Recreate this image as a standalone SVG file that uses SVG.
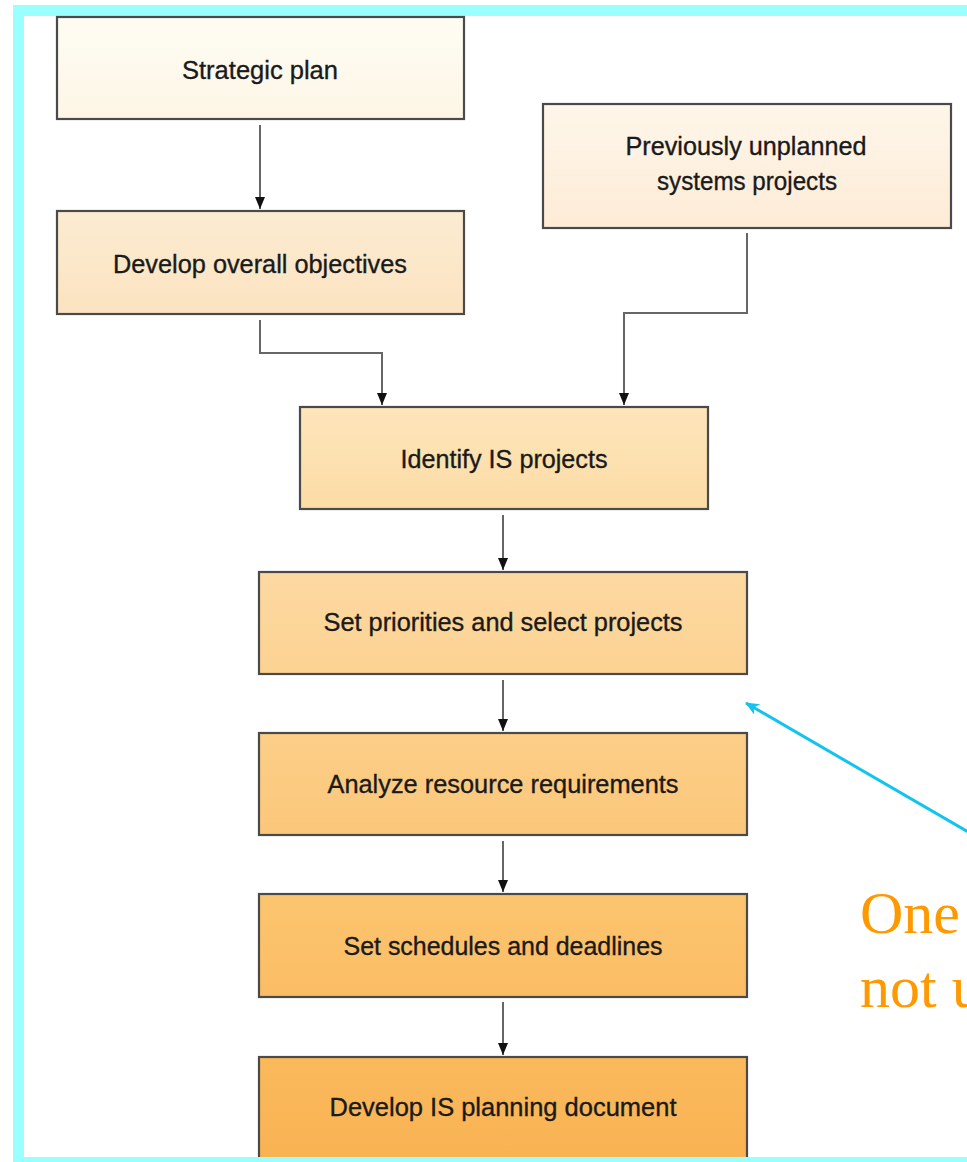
<svg xmlns="http://www.w3.org/2000/svg" width="967" height="1162" viewBox="0 0 967 1162">
  <style>
    .box { stroke: #4a4a4a; stroke-width: 2.2; }
    .lbl { font-family: "Liberation Sans", Arial, sans-serif; font-size: 26px; fill: #1a1a1a; text-anchor: middle; stroke: #1a1a1a; stroke-width: 0.35; }
    .wire { fill: none; stroke: #666666; stroke-width: 2; }
    .note { font-family: "Liberation Serif", "Times New Roman", serif; font-size: 60px; fill: #FF9900; }
  </style>
  <defs>
    <!-- arrowheads are drawn along +x so orient="auto" follows the wire -->
    <marker id="head" viewBox="0 0 12 10" refX="12" refY="5" markerWidth="12" markerHeight="10" markerUnits="userSpaceOnUse" orient="auto">
      <path d="M0,0 L12,5 L0,10 Z" fill="#111"/>
    </marker>
    <marker id="cyanHead" viewBox="0 0 14 12" refX="13" refY="6" markerWidth="14" markerHeight="12" markerUnits="userSpaceOnUse" orient="auto">
      <path d="M14,6 L0,0 L4,6 L0,12 Z" fill="#11C4F0"/>
    </marker>
    <linearGradient id="g1" x1="0" y1="0" x2="0" y2="1"><stop offset="0" stop-color="#FEFCF3"/><stop offset="1" stop-color="#FDF6E6"/></linearGradient>
    <linearGradient id="g2" x1="0" y1="0" x2="0" y2="1"><stop offset="0" stop-color="#FCEBD2"/><stop offset="1" stop-color="#FBE3C0"/></linearGradient>
    <linearGradient id="g3" x1="0" y1="0" x2="0" y2="1"><stop offset="0" stop-color="#FEF6EA"/><stop offset="1" stop-color="#FDEBD6"/></linearGradient>
    <linearGradient id="g4" x1="0" y1="0" x2="0" y2="1"><stop offset="0" stop-color="#FDE5BA"/><stop offset="1" stop-color="#FCDCA6"/></linearGradient>
    <linearGradient id="g5" x1="0" y1="0" x2="0" y2="1"><stop offset="0" stop-color="#FCD9A2"/><stop offset="1" stop-color="#FCD292"/></linearGradient>
    <linearGradient id="g6" x1="0" y1="0" x2="0" y2="1"><stop offset="0" stop-color="#FCCE88"/><stop offset="1" stop-color="#FBC77A"/></linearGradient>
    <linearGradient id="g7" x1="0" y1="0" x2="0" y2="1"><stop offset="0" stop-color="#FBC56F"/><stop offset="1" stop-color="#FBBD64"/></linearGradient>
    <linearGradient id="g8" x1="0" y1="0" x2="0" y2="1"><stop offset="0" stop-color="#FAB95C"/><stop offset="1" stop-color="#F9B252"/></linearGradient>
  </defs>

  <rect width="967" height="1162" fill="#FFFFFF"/>

  <!-- outer frame -->
  <rect x="18.5" y="10.5" width="1000" height="1152" fill="none" stroke="#99FFFF" stroke-width="11"/>

  <!-- connectors -->
  <g id="connectors">
    <path class="wire" d="M260,125 V209" marker-end="url(#head)"/>
    <path class="wire" d="M260,320 V353 H382 V405" marker-end="url(#head)"/>
    <path class="wire" d="M747,233 V313 H624 V405" marker-end="url(#head)"/>
    <path class="wire" d="M503,515 V570" marker-end="url(#head)"/>
    <path class="wire" d="M503,680 V731" marker-end="url(#head)"/>
    <path class="wire" d="M503,841 V892" marker-end="url(#head)"/>
    <path class="wire" d="M503,1002 V1055" marker-end="url(#head)"/>
    <line x1="975" y1="836" x2="746" y2="703" stroke="#11C4F0" stroke-width="3" marker-end="url(#cyanHead)"/>
  </g>

  <g id="strategic-plan">
    <rect class="box" x="57" y="17" width="407" height="102" fill="url(#g1)"/>
    <text class="lbl" x="260" y="79" textLength="156" lengthAdjust="spacingAndGlyphs">Strategic plan</text>
  </g>

  <g id="overall-objectives">
    <rect class="box" x="57" y="211" width="407" height="103" fill="url(#g2)"/>
    <text class="lbl" x="260" y="273" textLength="294" lengthAdjust="spacingAndGlyphs">Develop overall objectives</text>
  </g>

  <g id="unplanned-projects">
    <rect class="box" x="543" y="104" width="408" height="124" fill="url(#g3)"/>
    <text class="lbl" x="746" y="155" textLength="241" lengthAdjust="spacingAndGlyphs">Previously unplanned</text>
    <text class="lbl" x="747" y="190" textLength="180" lengthAdjust="spacingAndGlyphs">systems projects</text>
  </g>

  <g id="identify-projects">
    <rect class="box" x="300" y="407" width="408" height="102" fill="url(#g4)"/>
    <text class="lbl" x="504" y="468" textLength="207" lengthAdjust="spacingAndGlyphs">Identify IS projects</text>
  </g>

  <g id="set-priorities">
    <rect class="box" x="259" y="572" width="488" height="102" fill="url(#g5)"/>
    <text class="lbl" x="503" y="631" textLength="359" lengthAdjust="spacingAndGlyphs">Set priorities and select projects</text>
  </g>

  <g id="analyze-resources">
    <rect class="box" x="259" y="733" width="488" height="102" fill="url(#g6)"/>
    <text class="lbl" x="503" y="793" textLength="351" lengthAdjust="spacingAndGlyphs">Analyze resource requirements</text>
  </g>

  <g id="set-schedules">
    <rect class="box" x="259" y="894" width="488" height="103" fill="url(#g7)"/>
    <text class="lbl" x="503" y="955" textLength="319" lengthAdjust="spacingAndGlyphs">Set schedules and deadlines</text>
  </g>

  <g id="planning-document">
    <rect class="box" x="259" y="1057" width="488" height="110" fill="url(#g8)"/>
    <text class="lbl" x="503" y="1116" textLength="347" lengthAdjust="spacingAndGlyphs">Develop IS planning document</text>
  </g>

  <!-- frame bottom edge drawn over the last box -->
  <rect x="13" y="1157" width="954" height="5" fill="#99FFFF"/>

  <g id="note">
    <text class="note" x="860" y="933">One</text>
    <text class="note" x="860" y="1007">not u</text>
  </g>
</svg>
